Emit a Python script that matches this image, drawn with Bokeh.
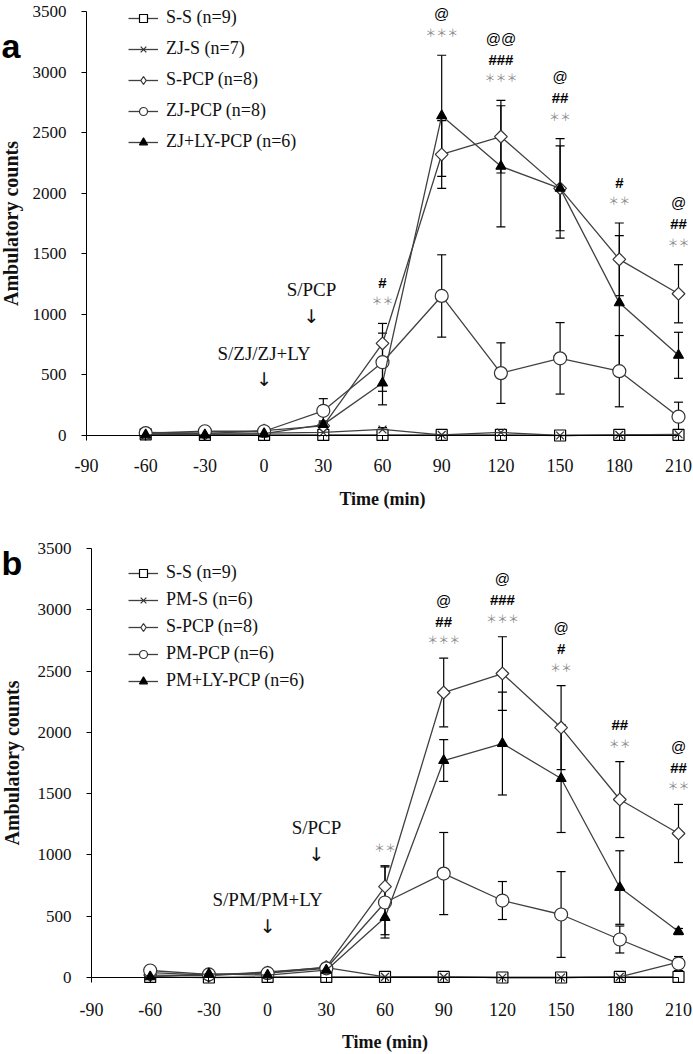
import math
from bokeh.plotting import figure
from bokeh.models import (ColumnDataSource, Whisker, TeeHead, Legend, LegendItem,
                          FixedTicker, Label)
from bokeh.layouts import column
from bokeh.embed import file_html
from bokeh.resources import INLINE
from bokeh.core.properties import value

# ---------------- data ----------------
time_min = [-60, -30, 0, 30, 60, 90, 120, 150, 180, 210]
x_ticks = [-90, -60, -30, 0, 30, 60, 90, 120, 150, 180, 210]
y_ticks = [0, 500, 1000, 1500, 2000, 2500, 3000, 3500]

# panel a
a_names = ["S-S (n=9)", "ZJ-S (n=7)", "S-PCP (n=8)", "ZJ-PCP (n=8)", "ZJ+LY-PCP (n=6)"]
a_ss = [10, 5, 5, 5, 5, 5, 5, 0, 5, 5]
a_ss_err = [5, 5, 5, 5, 5, 5, 5, 5, 5, 5]
a_zjs = [25, 20, 20, 25, 50, 5, 25, 0, 5, 10]
a_zjs_err = [10, 10, 10, 10, 15, 5, 10, 5, 5, 5]
a_spcp = [20, 15, 40, 80, 760, 2320, 2467, 2040, 1454, 1170]
a_spcp_err = [10, 10, 15, 30, 165, 280, 300, 350, 300, 240]
a_zjpcp = [20, 35, 35, 204, 605, 1152, 515, 637, 531, 155]
a_zjpcp_err = [10, 10, 15, 100, 240, 340, 250, 295, 294, 120]
a_zjly = [5, 5, 15, 90, 433, 2639, 2222, 2040, 1095, 662]
a_zjly_err = [5, 5, 10, 30, 180, 500, 500, 410, 555, 190]

a_ann_x = [60, 90, 120, 150, 180, 210]
a_ann_star = ["**", "***", "***", "**", "**", "**"]
a_ann_hash = ["#", "", "###", "##", "#", "##"]
a_ann_at = ["", "@", "@@", "@", "", "@"]
a_notes = ["S/PCP", "S/ZJ/ZJ+LY"]
a_notes_x = [24, 0]
a_notes_y = [1209, 678]
a_arrow_y = [988, 466]

# panel b
b_names = ["S-S (n=9)", "PM-S (n=6)", "S-PCP (n=8)", "PM-PCP (n=6)", "PM+LY-PCP (n=6)"]
b_ss = [5, 0, 5, 5, 5, 5, 0, 0, 5, 5]
b_ss_err = [5, 5, 5, 5, 5, 5, 5, 5, 5, 5]
b_pms = [40, 20, 45, 80, 5, 5, 0, 0, 5, 125]
b_pms_err = [10, 10, 10, 15, 5, 5, 5, 5, 5, 20]
b_spcp = [20, 15, 40, 85, 742, 2325, 2480, 2039, 1452, 1175]
b_spcp_err = [10, 10, 15, 30, 170, 280, 300, 343, 310, 237]
b_pmpcp = [57, 25, 35, 75, 612, 848, 628, 514, 310, 114]
b_pmpcp_err = [15, 10, 10, 20, 290, 335, 155, 350, 110, 57]
b_pmly = [5, 30, 20, 60, 489, 1770, 1909, 1623, 734, 375]
b_pmly_err = [5, 10, 10, 20, 140, 170, 420, 440, 300, 25]

b_ann_x = [60, 90, 120, 150, 180, 210]
b_ann_star = ["**", "***", "***", "**", "**", "**"]
b_ann_hash = ["", "##", "###", "#", "##", "##"]
b_ann_at = ["", "@", "@", "@", "", "@"]
b_notes = ["S/PCP", "S/PM/PM+LY"]
b_notes_x = [25, 0]
b_notes_y = [1223, 636]
b_arrow_y = [1011, 424]

# ---------------- styles ----------------
SERIF = "Liberation Serif"
SANS = "Liberation Sans"
LINE_C = "#404040"
styles = [
    dict(marker="square", size=11, fill_color="white", line_color="black", angle=0),
    dict(marker="x", size=11, fill_color=None, line_color="#333333", angle=0),
    dict(marker="square", size=9, fill_color="white", line_color="#333333", angle=math.pi / 4),
    dict(marker="circle", size=13, fill_color="white", line_color="#333333", angle=0),
    dict(marker="triangle", size=10, fill_color="black", line_color="black", angle=0),
]


def make_panel(names, means, errs, ann, notes, cfg):
    W, H = 693, cfg["height"]
    x0px, ppx = cfg["x0px"], cfg["ppx"]      # pixel of x=-90, pixels per minute
    y0px, ppu = cfg["y0px"], cfg["ppu"]      # pixel (from top) of y=0, pixels per count
    x_start = -90 - x0px / ppx
    x_end = -90 + (W - x0px) / ppx
    y_end = y0px / ppu
    y_start = -(H - y0px) / ppu
    p = figure(width=W, height=H, x_range=(x_start, x_end), y_range=(y_start, y_end),
               output_backend="svg", toolbar_location=None, min_border=0)
    p.title.visible = False
    p.outline_line_color = None
    p.grid.visible = False
    p.background_fill_color = "white"
    p.border_fill_color = "white"

    xa, ya = p.xaxis[0], p.yaxis[0]
    xa.ticker = FixedTicker(ticks=x_ticks)
    ya.ticker = FixedTicker(ticks=y_ticks)
    xa.major_label_overrides = {t: str(t) for t in x_ticks}
    xa.fixed_location = 0
    ya.fixed_location = x_ticks[0]
    xa.bounds = (x_ticks[0], x_ticks[-1])
    ya.bounds = (y_ticks[0], y_ticks[-1])
    for ax in (xa, ya):
        ax.major_tick_in = 0
        ax.major_tick_out = 5
        ax.minor_tick_line_color = None
        ax.axis_line_color = "black"
        ax.major_tick_line_color = "black"
        ax.major_label_text_font = SERIF
        ax.major_label_text_color = "#111111"
        ax.axis_label_text_font = SERIF
        ax.axis_label_text_font_style = "bold"
        ax.axis_label_text_color = "#111111"
    xa.major_label_text_font_size = "18px"
    ya.major_label_text_font_size = "17px"
    ya.major_label_standoff = 15
    xa.major_label_standoff = cfg["xstand"]
    xa.axis_label = "Time (min)"
    xa.axis_label_text_font_size = "18px"
    xa.axis_label_standoff = cfg["xlabstand"]
    ya.axis_label = "Ambulatory counts"
    ya.axis_label_text_font_size = "20px"
    ya.axis_label_standoff = cfg["ylabstand"]

    items = []
    for i, (nm, m, e) in enumerate(zip(names, means, errs)):
        st = styles[i]
        src = ColumnDataSource(dict(x=time_min, y=m,
                                    up=[a + b for a, b in zip(m, e)],
                                    lo=[a - b for a, b in zip(m, e)]))
        w = Whisker(source=src, base="x", upper="up", lower="lo",
                    line_color="black", line_width=1.2,
                    upper_head=TeeHead(size=9, line_color="black", line_width=1.2),
                    lower_head=TeeHead(size=9, line_color="black", line_width=1.2))
        p.add_layout(w)
        lr = p.line("x", "y", source=src, line_color=LINE_C, line_width=1.3)
        rends = [lr]
        if st["angle"]:
            # diamond glyph used as the legend sample; hidden under the rotated squares
            dr = p.scatter("x", "y", source=src, marker="diamond", size=11,
                           fill_color="white", line_color=st["line_color"], line_width=1.2)
            rends.append(dr)
        sr = p.scatter("x", "y", source=src, marker=st["marker"], size=st["size"],
                       fill_color=st["fill_color"], line_color=st["line_color"],
                       line_width=1.2, angle=st["angle"])
        if not st["angle"]:
            rends.append(sr)
        items.append(LegendItem(label=nm, renderers=rends))

    leg = Legend(items=items, location=cfg["legend_loc"], padding=0, margin=0,
                 spacing=cfg["legend_spacing"], glyph_width=30, glyph_height=20,
                 label_height=20, label_standoff=8, border_line_alpha=0,
                 background_fill_alpha=0, label_text_font=SERIF,
                 label_text_font_size="18px", label_text_color="#111111")
    p.add_layout(leg, "center")

    # significance annotations placed above the highest error bar
    ax_x, stars, hashes, ats = ann
    sx, sy, stt, hx, hy, htt, atx, aty, att = [], [], [], [], [], [], [], [], []
    for x, s, h, a in zip(ax_x, stars, hashes, ats):
        i = time_min.index(x)
        top = max(mm[i] + ee[i] for mm, ee in zip(means, errs))
        cur = top + cfg["d0"] / ppu
        sx.append(x); sy.append(cur); stt.append(s.replace("*", "\uff0a"))
        if h:
            cur += 18 / ppu
            hx.append(x); hy.append(cur); htt.append(h)
        if a:
            cur += (21 if h else 19) / ppu
            atx.append(x); aty.append(cur); att.append(a)
    p.text(sx, sy, text=stt, text_align="center", text_baseline="middle",
           text_font=value("Noto Sans CJK JP"), text_font_size="11px", text_color="#8a8a8a")
    p.text(hx, hy, text=htt, text_align="center", text_baseline="middle",
           text_font=value(SANS), text_font_style="bold", text_font_size="15px",
           text_color="black")
    p.text(atx, aty, text=att, text_align="center", text_baseline="middle",
           text_font=value(SANS), text_font_size="15px", text_color="black")

    # treatment notes with arrows
    nt, nx, ny, ay = notes
    p.text(nx, ny, text=nt, text_align="center", text_baseline="middle",
           text_font=value(SERIF), text_font_size="19px", text_color="#111111")
    p.text(nx, ay, text=["\u2193"] * len(nx), text_align="center", text_baseline="middle",
           text_font=value("DejaVu Sans"), text_font_size="19px", text_color="#111111")

    # panel letter (screen units relative to the frame = whole figure)
    p.add_layout(Label(x=cfg["lx"], y=cfg["ly"], x_units="screen", y_units="screen",
                       text=cfg["letter"], text_align="left", text_baseline="alphabetic",
                       text_font=SANS, text_font_style="bold", text_font_size="34px",
                       text_color="black"))
    return p


cfg_a = dict(height=514, x0px=86, ppx=592 / 300, y0px=435, ppu=424 / 3500,
             xstand=18, xlabstand=14, ylabstand=8,
             legend_loc=(128, 362), legend_spacing=10, d0=23,
             lx=1, ly=469, letter="a")
cfg_b = dict(height=540, x0px=91, ppx=587 / 300, y0px=463, ppu=429 / 3500,
             xstand=20, xlabstand=13, ylabstand=12,
             legend_loc=(128, 363), legend_spacing=6, d0=19,
             lx=1, ly=492, letter="b")

pa = make_panel(a_names, [a_ss, a_zjs, a_spcp, a_zjpcp, a_zjly],
                [a_ss_err, a_zjs_err, a_spcp_err, a_zjpcp_err, a_zjly_err],
                (a_ann_x, a_ann_star, a_ann_hash, a_ann_at),
                (a_notes, a_notes_x, a_notes_y, a_arrow_y), cfg_a)
pb = make_panel(b_names, [b_ss, b_pms, b_spcp, b_pmpcp, b_pmly],
                [b_ss_err, b_pms_err, b_spcp_err, b_pmpcp_err, b_pmly_err],
                (b_ann_x, b_ann_star, b_ann_hash, b_ann_at),
                (b_notes, b_notes_x, b_notes_y, b_arrow_y), cfg_b)

layout = column(pa, pb, spacing=0)
open("out.html", "w").write(file_html(layout, INLINE))
